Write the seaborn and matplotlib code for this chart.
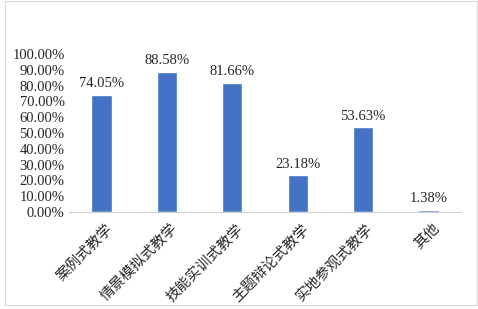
import matplotlib.pyplot as plt
import seaborn as sns
import pandas as pd
from matplotlib.patches import Rectangle
from matplotlib.ticker import PercentFormatter
from matplotlib.transforms import ScaledTranslation

categories = ["案例式教学", "情景模拟式教学", "技能实训式教学", "主题辩论式教学", "实地参观式教学", "其他"]
values = [74.05, 88.58, 81.66, 23.18, 53.63, 1.38]
yticks = [0, 10, 20, 30, 40, 50, 60, 70, 80, 90, 100]

df = pd.DataFrame({"cat": categories, "val": values})

sns.set_style("white")
plt.rcParams['font.family'] = ['Liberation Serif', 'Noto Sans CJK SC']

fig = plt.figure(figsize=(4.78, 3.09), dpi=100)
ax = fig.add_axes([0.144, 0.314, 0.821, 0.511])

sns.barplot(data=df, x="cat", y="val", color="#4472C4", width=0.31,
            saturation=1, ax=ax)

for i, v in enumerate(values):
    ax.text(i, v + 3, f"{v:.2f}%", ha="center", va="bottom", fontsize=10.5)

ax.set_ylim(0, 100)
ax.set_yticks(yticks)
ax.yaxis.set_major_formatter(PercentFormatter(decimals=2))
ax.tick_params(axis="y", labelsize=10.5, length=0, pad=3)
ax.tick_params(axis="x", labelsize=10.5, length=0, pad=2)
ax.set_xticks(range(len(categories)))
ax.set_xticklabels(categories, rotation=45, ha="right", rotation_mode="anchor")
offset = ScaledTranslation(4 / 100, -7 / 100, fig.dpi_scale_trans)
for lbl in ax.get_xticklabels():
    lbl.set_transform(lbl.get_transform() + offset)
ax.set_xlabel("")
ax.set_ylabel("")

for s in ["top", "right", "left"]:
    ax.spines[s].set_visible(False)
ax.spines["bottom"].set_color("#d0d0d0")

fig.patches.append(Rectangle((0.01, 0.012), 0.988, 0.985, transform=fig.transFigure,
                             fill=False, edgecolor="#d8d8d8", linewidth=0.8))

plt.savefig("out.png", dpi=100)
